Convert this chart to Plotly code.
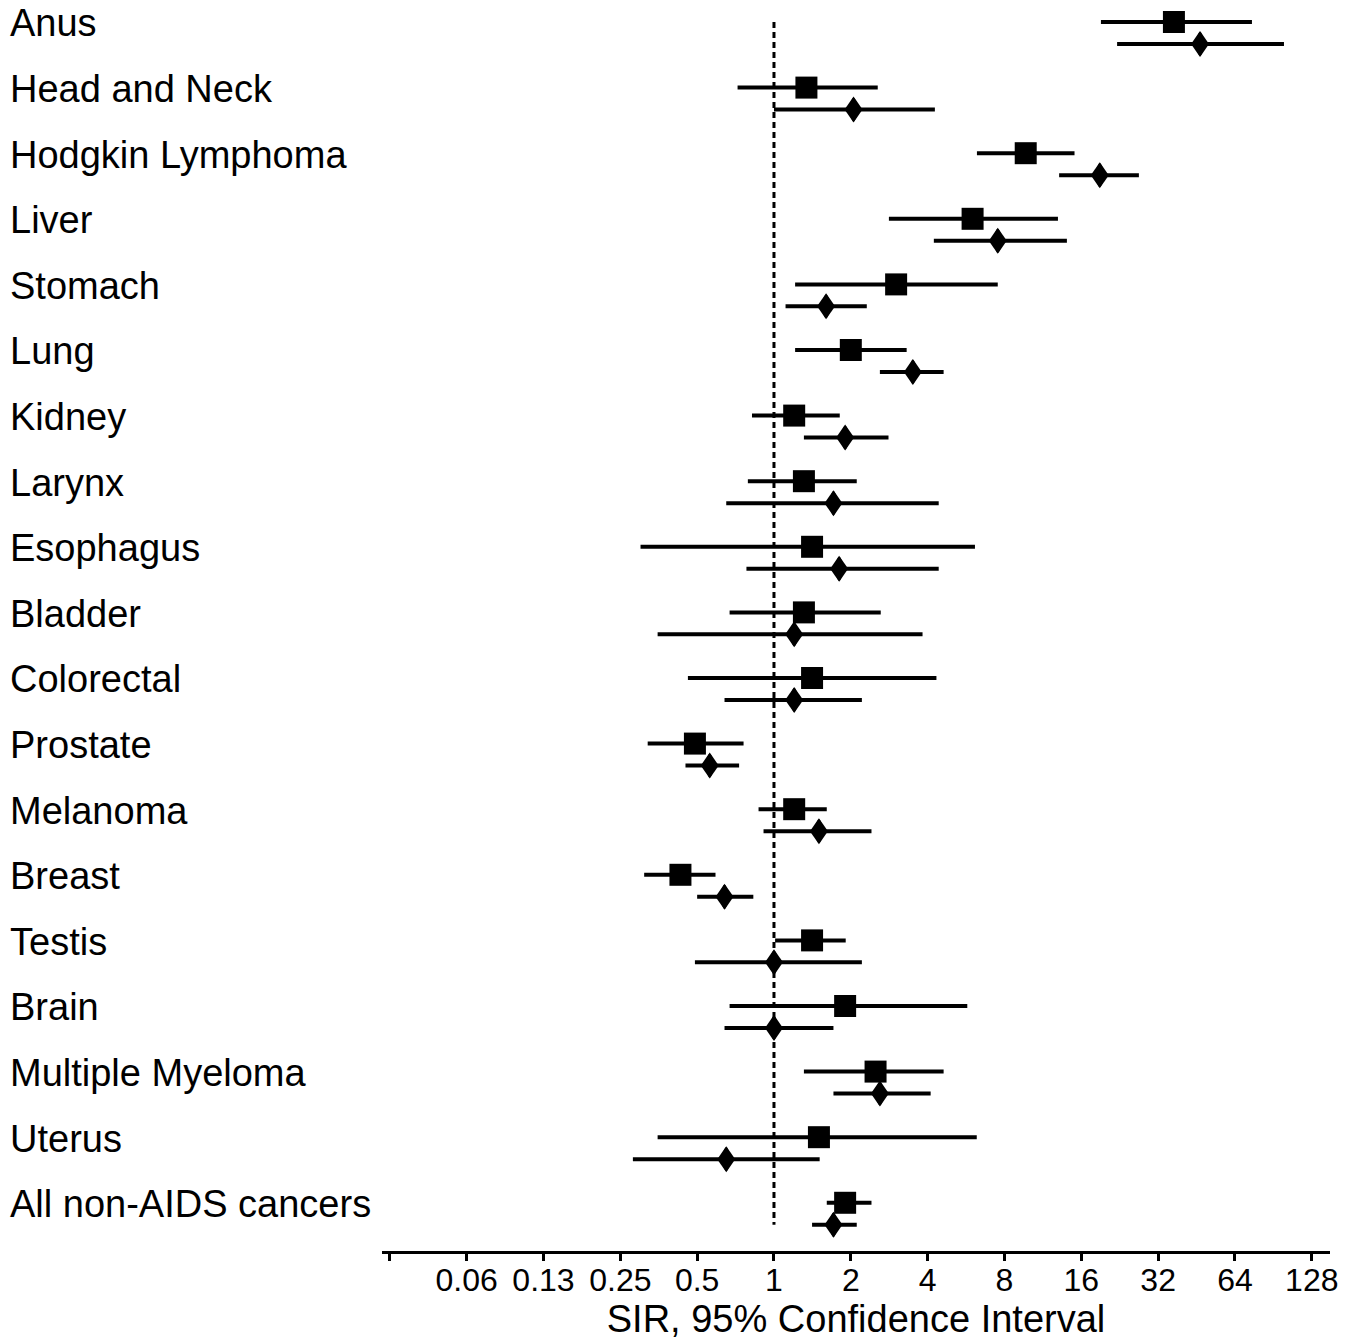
import math
import plotly.graph_objects as go

categories = ["Anus", "Head and Neck", "Hodgkin Lymphoma", "Liver", "Stomach", "Lung",
              "Kidney", "Larynx", "Esophagus", "Bladder", "Colorectal", "Prostate",
              "Melanoma", "Breast", "Testis", "Brain", "Multiple Myeloma", "Uterus",
              "All non-AIDS cancers"]

# series 1 (squares)
sq_sir = [36.9, 1.34, 9.69, 6.0, 3.01, 2.0, 1.2, 1.31, 1.41, 1.31, 1.41, 0.49, 1.2, 0.43, 1.41, 1.9, 2.5, 1.5, 1.9]
sq_lo = [19.1, 0.72, 6.24, 2.82, 1.21, 1.21, 0.82, 0.79, 0.30, 0.67, 0.46, 0.32, 0.87, 0.31, 1.01, 0.67, 1.31, 0.35, 1.61]
sq_hi = [74.6, 2.55, 15.05, 12.96, 7.53, 3.31, 1.81, 2.11, 6.13, 2.62, 4.33, 0.76, 1.61, 0.59, 1.91, 5.72, 4.62, 6.23, 2.41]

# series 2 (diamonds)
di_sir = [46.7, 2.05, 18.9, 7.53, 1.60, 3.50, 1.90, 1.71, 1.80, 1.2, 1.2, 0.56, 1.50, 0.64, 1.0, 1.0, 2.60, 0.65, 1.71]
di_lo = [22.1, 1.0, 13.1, 4.23, 1.11, 2.60, 1.31, 0.65, 0.78, 0.35, 0.64, 0.45, 0.91, 0.50, 0.49, 0.64, 1.71, 0.28, 1.41]
di_hi = [99.6, 4.27, 26.9, 14.05, 2.31, 4.62, 2.81, 4.42, 4.42, 3.82, 2.21, 0.73, 2.41, 0.83, 2.21, 1.71, 4.11, 1.51, 2.11]

tick_vals = [0.03125, 0.0625, 0.125, 0.25, 0.5, 1, 2, 4, 8, 16, 32, 64, 128]
tick_text = ["", "0.06", "0.13", "0.25", "0.5", "1", "2", "4", "8", "16", "32", "64", "128"]

FONT = "Liberation Sans, Arial, sans-serif"
n = len(categories)
y_sq = list(range(n))
offset = 0.335
y_di = [v + offset for v in y_sq]

fig = go.Figure()

fig.add_shape(type="line", xref="x", yref="y", x0=1, x1=1, y0=y_sq[0], y1=y_di[-1],
              line=dict(color="black", width=3, dash="6px,4px"), layer="below")

fig.add_trace(go.Scatter(
    x=sq_sir, y=y_sq, mode="markers",
    marker=dict(symbol="square", size=22, color="black"),
    error_x=dict(type="data", symmetric=False,
                 array=[h - v for h, v in zip(sq_hi, sq_sir)],
                 arrayminus=[v - l for v, l in zip(sq_sir, sq_lo)],
                 color="black", thickness=4, width=0),
    showlegend=False, cliponaxis=False))

fig.add_trace(go.Scatter(
    x=di_sir, y=y_di, mode="markers",
    marker=dict(symbol="diamond-tall", size=16, color="black",
                line=dict(color="black", width=2)),
    error_x=dict(type="data", symmetric=False,
                 array=[h - v for h, v in zip(di_hi, di_sir)],
                 arrayminus=[v - l for v, l in zip(di_sir, di_lo)],
                 color="black", thickness=4, width=0),
    showlegend=False, cliponaxis=False))

# wider diamond outline (pixel-sized shape anchored at each data point)
for xv, yv in zip(di_sir, y_di):
    fig.add_shape(type="path", xref="x", yref="y", xsizemode="pixel", ysizemode="pixel",
                  xanchor=xv, yanchor=yv, path="M-9,0 L0,13 L9,0 L0,-13 Z",
                  fillcolor="black", line=dict(width=0), layer="above")

# page body has an 8px margin, so the figure is 8px smaller and shifted
W, H = 1350, 1335
L, R, T, B = 374, 28, 0, 92
plot_w = W - L - R
for i, c in enumerate(categories):
    fig.add_annotation(text=c, xref="paper", yref="y", x=(0 - L) / plot_w, y=y_sq[i] + 0.02,
                       xanchor="left", yanchor="middle", showarrow=False,
                       font=dict(family=FONT, size=38, color="black"))

xmin = math.log10(2 ** -5.102)
xmax = math.log10(2 ** 7.237)
fig.update_xaxes(type="log", range=[xmin, xmax], tickvals=tick_vals, ticktext=tick_text,
                 showline=True, linecolor="black", linewidth=2.5,
                 ticks="outside", ticklen=7, tickwidth=2.5, tickcolor="black",
                 ticklabelstandoff=-8,
                 showgrid=False, zeroline=False,
                 tickfont=dict(family=FONT, size=32, color="black"),
                 title=dict(text="SIR, 95% Confidence Interval", standoff=2,
                            font=dict(family=FONT, size=38, color="black")))
fig.update_yaxes(range=[18.735, -0.2134], showticklabels=False, showline=False,
                 showgrid=False, zeroline=False, ticks="")

fig.update_layout(width=W, height=H, margin=dict(l=L, r=R, t=T, b=B, autoexpand=False),
                  plot_bgcolor="white", paper_bgcolor="white",
                  font=dict(family=FONT, color="black"))

fig.write_html("out.html")
